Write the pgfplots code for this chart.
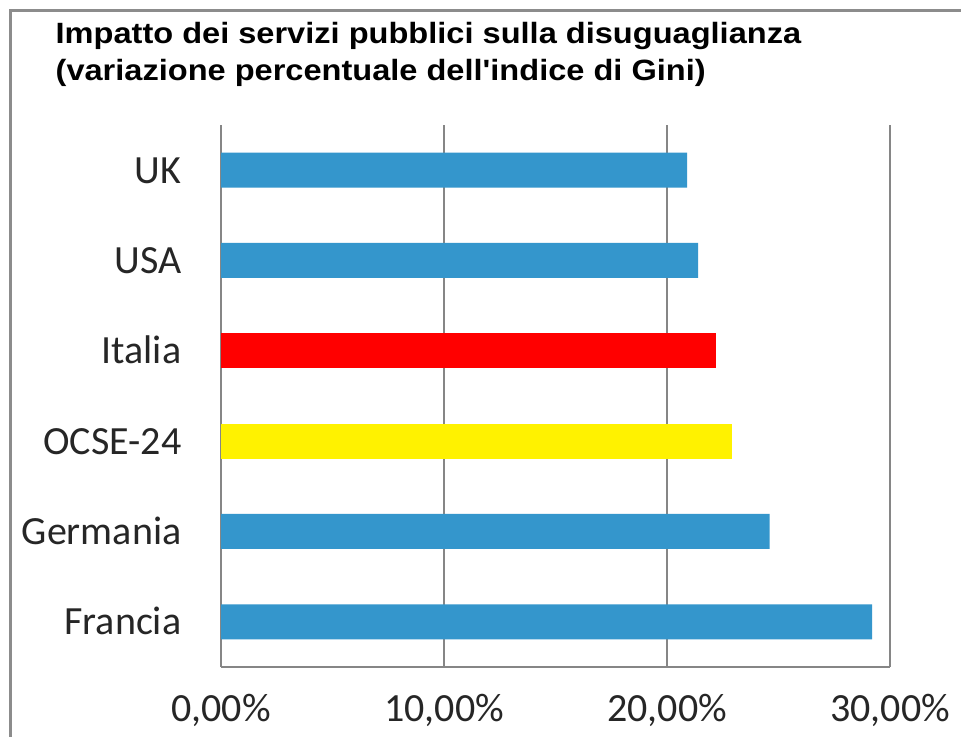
\documentclass[border=0pt]{standalone}
\usepackage{fontspec}
\usepackage{graphicx}
\usepackage{pgfplots}
\pgfplotsset{compat=1.18}
\newfontfamily\carlito{Carlito}
\newfontfamily\lib{Liberation Sans}
\definecolor{barblue}{RGB}{52,150,204}
\definecolor{gridgray}{RGB}{134,134,134}
\definecolor{framegray}{RGB}{140,140,140}
\begin{document}
\begin{tikzpicture}
\path[use as bounding box] (0pt,0pt) rectangle (288.3pt,221.1pt);
\fill[white] (0pt,0pt) rectangle (288.3pt,221.1pt);
\draw[framegray, line width=0.9pt] (3pt,0pt) -- (3pt,217.8pt) -- (288.3pt,217.8pt);
\node[anchor=base west, inner sep=0pt] at (16.5pt,208.1pt)
  {\scalebox{1.11}[1]{\lib\bfseries\fontsize{8.8}{10}\selectfont Impatto dei servizi pubblici sulla disuguaglianza}};
\node[anchor=base west, inner sep=0pt] at (16.5pt,196.9pt)
  {\scalebox{1.11}[1]{\lib\bfseries\fontsize{8.8}{10}\selectfont (variazione percentuale dell\symbol{39}indice di Gini)}};
\begin{axis}[
  at={(66.3pt,21pt)}, anchor=south west,
  scale only axis, width=200.7pt, height=162.6pt,
  xmin=0, xmax=30, ymin=-0.5, ymax=5.5,
  xbar, bar width=10.5pt, bar shift=0pt,
  xtick={0,10,20,30},
  xticklabels={{0,00\%},{10,00\%},{20,00\%},{30,00\%}},
  ytick={0,1,2,3,4,5},
  yticklabels={Francia,Germania,OCSE-24,Italia,USA,UK},
  major tick length=0pt,
  xmajorgrids, grid style={gridgray, line width=0.45pt},
  axis x line*=bottom, axis y line*=left,
  axis line style={gridgray, line width=0.45pt, -},
  tick label style={font=\carlito\fontsize{12}{14}\selectfont, text=black!85},
  xticklabel style={anchor=base, inner sep=0pt, yshift=-16.4pt},
  yticklabel style={anchor=base east, inner sep=0pt, xshift=-11.7pt, yshift=-3.86pt},
  clip=false,
]
\addplot[draw=none, fill=barblue] coordinates {(29.2,0) (24.6,1) (21.4,4) (20.9,5)};
\addplot[draw=none, fill=yellow] coordinates {(22.9,2)};
\addplot[draw=none, fill=red] coordinates {(22.2,3)};
\end{axis}
\end{tikzpicture}
\end{document}
